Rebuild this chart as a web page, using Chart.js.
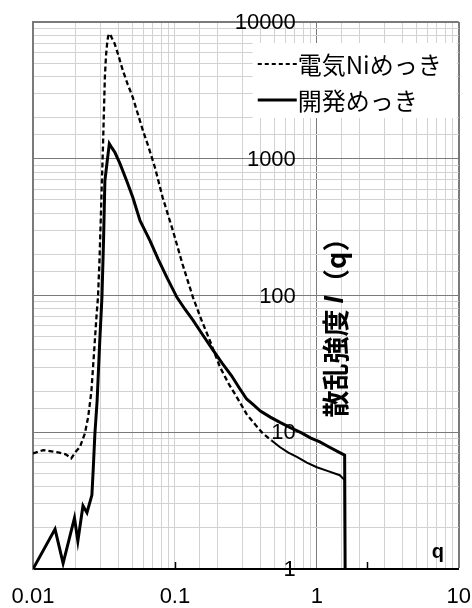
<!DOCTYPE html>
<html><head><meta charset="utf-8">
<script src="https://cdn.jsdelivr.net/npm/chart.js@4.4.1/dist/chart.umd.min.js"></script>
<style>html,body{margin:0;padding:0;background:#fff;}</style>
</head><body>
<canvas id="c" width="472" height="608"></canvas>
<script>
// ---- data ----
const seriesNames = ['電気Niめっき', '開発めっき'];
const qNi = [0.0100, 0.0118, 0.0135, 0.0153, 0.0170, 0.0186, 0.0200, 0.0214, 0.0232, 0.0245, 0.0258, 0.0270, 0.0280, 0.0287, 0.0294, 0.0300, 0.0306, 0.0311, 0.0316, 0.0321, 0.0327, 0.0333, 0.0338, 0.0343, 0.0350, 0.0360, 0.0375, 0.0400, 0.0430, 0.0465, 0.0506, 0.0550, 0.0596, 0.0655, 0.0724, 0.0820, 0.0968, 0.113, 0.134, 0.154, 0.176, 0.2075, 0.24, 0.2735, 0.321, 0.37, 0.417, 0.48, 0.548, 0.63, 0.723, 0.85, 1.0, 1.2, 1.45, 1.57, 1.59];
const iNi = [7.0, 7.4, 7.25, 7.1, 6.9, 6.45, 7.2, 7.8, 9.8, 13, 20, 40, 70, 97, 180, 350, 700, 1200, 2200, 4000, 5700, 7000, 7800, 8200, 8100, 7600, 7000, 5700, 4400, 3500, 2790, 2100, 1600, 1200, 860, 520, 298, 170, 97, 66, 47, 30, 22.5, 18, 13.5, 11.3, 9.8, 8.7, 7.8, 7.1, 6.6, 6.0, 5.55, 5.2, 4.85, 4.47, 0.3];
const qDev = [0.0100, 0.0143, 0.0163, 0.0196, 0.0207, 0.0225, 0.0240, 0.0260, 0.0266, 0.0273, 0.0283, 0.0295, 0.0306, 0.0314, 0.0321, 0.0333, 0.0345, 0.0360, 0.0378, 0.0410, 0.0457, 0.0506, 0.0568, 0.0667, 0.0760, 0.0879, 0.1033, 0.118, 0.134, 0.158, 0.185, 0.215, 0.25, 0.285, 0.32, 0.36, 0.40, 0.47, 0.55, 0.65, 0.78, 0.90, 1.05, 1.22, 1.45, 1.57, 1.59];
const iDev = [1.0, 1.96, 1.1, 2.36, 1.6, 2.9, 2.58, 3.47, 5.5, 9.8, 17, 45, 97, 250, 690, 950, 1290, 1200, 1110, 920, 690, 519, 352, 252, 185, 135, 97, 79, 66, 51, 40, 32, 26, 21, 17.5, 15.8, 14.3, 12.9, 11.8, 10.8, 9.9, 9.1, 8.5, 7.8, 7.1, 6.8, 0.3];
const xTickLabels = ['0.01', '0.1', '1', '10'];
const yTickLabels = ['1', '10', '100', '1000', '10000'];
const xAxisTitle = 'q';
const yAxisTitleParts = ['散乱強度 ', 'I', '（q）'];
const xMarks = [0.1, 2.25];

const isPow10 = v => Math.abs(Math.log10(v) - Math.round(Math.log10(v))) < 1e-6;
const near = (a, b) => Math.abs(Math.log10(a) - Math.log10(b)) < 1e-6;

const overlay = {
  id: 'overlay',
  afterDatasetsDraw(chart) {
    const {ctx, chartArea: ca, scales: {x, y}} = chart;
    ctx.save();
    ctx.strokeStyle = '#000'; ctx.lineWidth = 1.5;
    xMarks.forEach(v => {
      const px = Math.round(x.getPixelForValue(v)) + 0.5;
      ctx.beginPath(); ctx.moveTo(px, ca.bottom); ctx.lineTo(px, ca.bottom - 7); ctx.stroke();
    });
    // legend
    const lx = ca.right - 206, ly = ca.top + 21;
    ctx.fillStyle = '#fff';
    ctx.fillRect(lx, ly, 204, 75);
    chart.data.datasets.forEach((ds, i) => {
      const yy = ly + 21 + i * 36;
      ctx.strokeStyle = ds.borderColor;
      ctx.lineWidth = i === 0 ? 1.8 : 3;
      ctx.setLineDash(i === 0 ? [4, 3] : []);
      ctx.beginPath(); ctx.moveTo(lx + 5, yy); ctx.lineTo(lx + 44, yy); ctx.stroke();
      ctx.setLineDash([]);
      ctx.fillStyle = '#000';
      ctx.font = '24px "Noto Sans CJK JP"';
      ctx.textAlign = 'left'; ctx.textBaseline = 'middle';
      ctx.fillText(ds.label, lx + 45, yy + 1);
    });
    ctx.restore();
  },
  afterDraw(chart) {
    const {ctx, chartArea: ca, scales: {x, y}} = chart;
    ctx.save();
    const axX = x.getPixelForValue(1);
    ctx.fillStyle = '#000';
    ctx.font = '22px "Liberation Sans", Arial, sans-serif';
    ctx.textAlign = 'right'; ctx.textBaseline = 'middle';
    yTickLabels.forEach(t => {
      ctx.fillText(t, axX - 21, y.getPixelForValue(parseFloat(t)) + 1);
    });
    // y title (rotated)
    const fonts = ['bold 27px "Noto Sans CJK JP"', 'italic bold 27px "Liberation Sans"', 'bold 27px "Noto Sans CJK JP"'];
    const widths = yAxisTitleParts.map((p, i) => { ctx.font = fonts[i]; return ctx.measureText(p).width; });
    const total = widths.reduce((a, b) => a + b, 0);
    const cx = axX + 19, cy = y.getPixelForValue(65);
    ctx.translate(cx, cy); ctx.rotate(-Math.PI / 2);
    ctx.textAlign = 'left'; ctx.textBaseline = 'middle';
    let pos = -total / 2;
    yAxisTitleParts.forEach((p, i) => { ctx.font = fonts[i]; ctx.fillText(p, pos, 0); pos += widths[i]; });
    ctx.setTransform(1, 0, 0, 1, 0, 0);
    // x title
    ctx.font = 'bold 20px "Liberation Sans", Arial, sans-serif';
    ctx.textAlign = 'center'; ctx.textBaseline = 'middle';
    ctx.fillText(xAxisTitle, ca.right - 21, ca.bottom - 17);
    ctx.restore();
  }
};

new Chart(document.getElementById('c'), {
  type: 'line',
  data: {
    datasets: [
      {
        label: seriesNames[0],
        data: qNi.map((q, i) => ({x: q, y: iNi[i]})),
        borderColor: '#000', borderWidth: 2.3, borderDash: [5, 3],
        pointRadius: 0, tension: 0, fill: false,
        segment: {
          borderDash: c => c.p0.parsed.x >= 0.42 ? [] : [5, 3],
          borderWidth: c => c.p0.parsed.x >= 0.42 ? 2 : 2.3
        }
      },
      {
        label: seriesNames[1],
        data: qDev.map((q, i) => ({x: q, y: iDev[i]})),
        borderColor: '#000', borderWidth: 3,
        pointRadius: 0, tension: 0, fill: false
      }
    ]
  },
  options: {
    responsive: false, animation: false, devicePixelRatio: 1,
    layout: {padding: {left: 33, right: 13, top: 22, bottom: -17}},
    plugins: {legend: {display: false}, tooltip: {enabled: false}},
    scales: {
      x: {
        type: 'logarithmic', min: 0.01, max: 10, position: 'bottom',
        grid: {
          drawTicks: false,
          color: c => { const v = c.tick.value; return (near(v, 1) || near(v, 0.01) || near(v, 10)) ? '#7a7a7a' : '#d2d2d2'; },
          lineWidth: c => { const v = c.tick.value; return near(v, 10) ? 2 : 1; }
        },
        border: {display: true, color: '#000', width: 2},
        ticks: {
          autoSkip: false, maxRotation: 0, padding: 1, color: '#000',
          font: {family: '"Liberation Sans", Arial, sans-serif', size: 22, lineHeight: '54px'},
          callback: v => isPow10(v) ? xTickLabels[Math.round(Math.log10(v)) + 2] : ''
        }
      },
      y: {
        type: 'logarithmic', min: 1, max: 10000, position: 'left',
        grid: {
          drawTicks: false,
          color: c => { const v = c.tick.value; if (near(v, 1)) return '#000'; return isPow10(v) ? '#7a7a7a' : '#d2d2d2'; },
          lineWidth: c => { const v = c.tick.value; return near(v, 10000) ? 2 : 1; }
        },
        border: {display: true, color: '#7a7a7a', width: 2},
        ticks: {display: false}
      }
    }
  },
  plugins: [overlay]
});
</script>
</body></html>
